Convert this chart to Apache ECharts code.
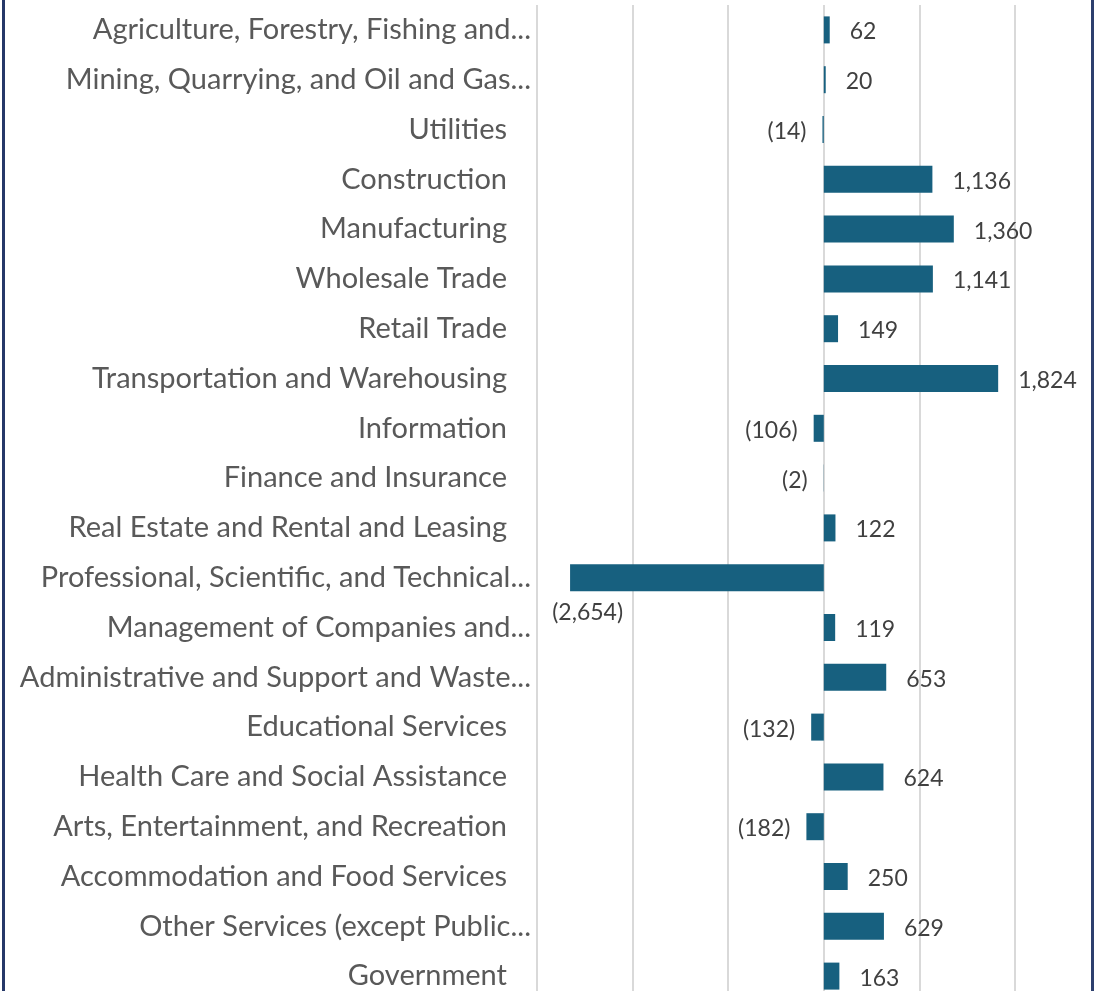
<!DOCTYPE html>
<html>
<head>
<meta charset="utf-8">
<script src="https://cdn.jsdelivr.net/npm/echarts@6/dist/echarts.min.js"></script>
<style>
  html, body { margin: 0; padding: 0; background: #fff; }
  #wrap { position: relative; width: 1107px; height: 991px; overflow: hidden; }
  #chart { position: absolute; left: 0; top: 0; width: 1107px; height: 1010px; }
  #frame { position: absolute; left: 2px; top: -4px; width: 1092px; height: 1000px; box-sizing: border-box;
           border-left: 3px solid #263868; border-right: 3px solid #2d3f6e; pointer-events: none; }
</style>
</head>
<body>
<div id="wrap">
  <div id="chart"></div>
  <div id="frame"></div>
</div>
<script>
// industries, as labelled in the picture (Excel shortens the long ones)
var industries = [
  'Agriculture, Forestry, Fishing and...',
  'Mining, Quarrying, and Oil and Gas...',
  'Utilities',
  'Construction',
  'Manufacturing',
  'Wholesale Trade',
  'Retail Trade',
  'Transportation and Warehousing',
  'Information',
  'Finance and Insurance',
  'Real Estate and Rental and Leasing',
  'Professional, Scientific, and Technical...',
  'Management of Companies and...',
  'Administrative and Support and Waste...',
  'Educational Services',
  'Health Care and Social Assistance',
  'Arts, Entertainment, and Recreation',
  'Accommodation and Food Services',
  'Other Services (except Public...',
  'Government'
];

// change per industry
var changes = [62, 20, -14, 1136, 1360, 1141, 149, 1824, -106, -2, 122, -2654, 119, 653, -132, 624, -182, 250, 629, 163];

// value axis ticks
var axisMin = -3000;
var axisMax = 2000;
var axisStep = 1000;

var FONT = 'Lato';

function fmt (v) {
  var s = Math.abs(v).toLocaleString('en-US');
  return v < 0 ? '(' + s + ')' : s;
}

// labels sit outside the bar end; the big negative one drops below like in Excel
var barData = changes.map(function (v, i) {
  var item = { value: v, label: { position: v < 0 ? 'left' : 'right', distance: v < 0 ? 16 : 20, offset: [0, 2] } };
  if (v < -2000) {
    item.label = { position: 'left', distance: 0, offset: [53, 35] };
  }
  return item;
});

var chart = echarts.init(document.getElementById('chart'));
chart.setOption({
  animation: false,
  grid: { left: 537, right: 92, top: 5, height: 996, containLabel: false },
  xAxis: {
    type: 'value',
    min: axisMin,
    max: axisMax,
    interval: axisStep,
    axisLabel: { show: false },
    axisLine: { show: false },
    axisTick: { show: false },
    splitLine: { show: true, lineStyle: { color: '#d9d9d9', width: 2 } }
  },
  yAxis: {
    type: 'category',
    inverse: true,
    data: industries,
    axisLine: { show: false, onZero: false },
    axisTick: { show: false },
    axisLabel: {
      margin: 6,
      formatter: function (v) {
        return v.slice(-3) === '...' ? '{t|' + v + '}' : '{p|' + v + '}';
      },
      rich: {
        t: { fontFamily: FONT, fontSize: 29, color: '#595959' },
        p: { fontFamily: FONT, fontSize: 29, color: '#595959', padding: [0, 24, 0, 0] }
      }
    }
  },
  series: [{
    type: 'bar',
    data: barData,
    barWidth: 27,
    itemStyle: { color: '#17607f' },
    label: {
      show: true,
      fontFamily: FONT,
      fontSize: 23,
      color: '#404040',
      formatter: function (p) { return fmt(p.value); }
    }
  }]
});
</script>
</body>
</html>
